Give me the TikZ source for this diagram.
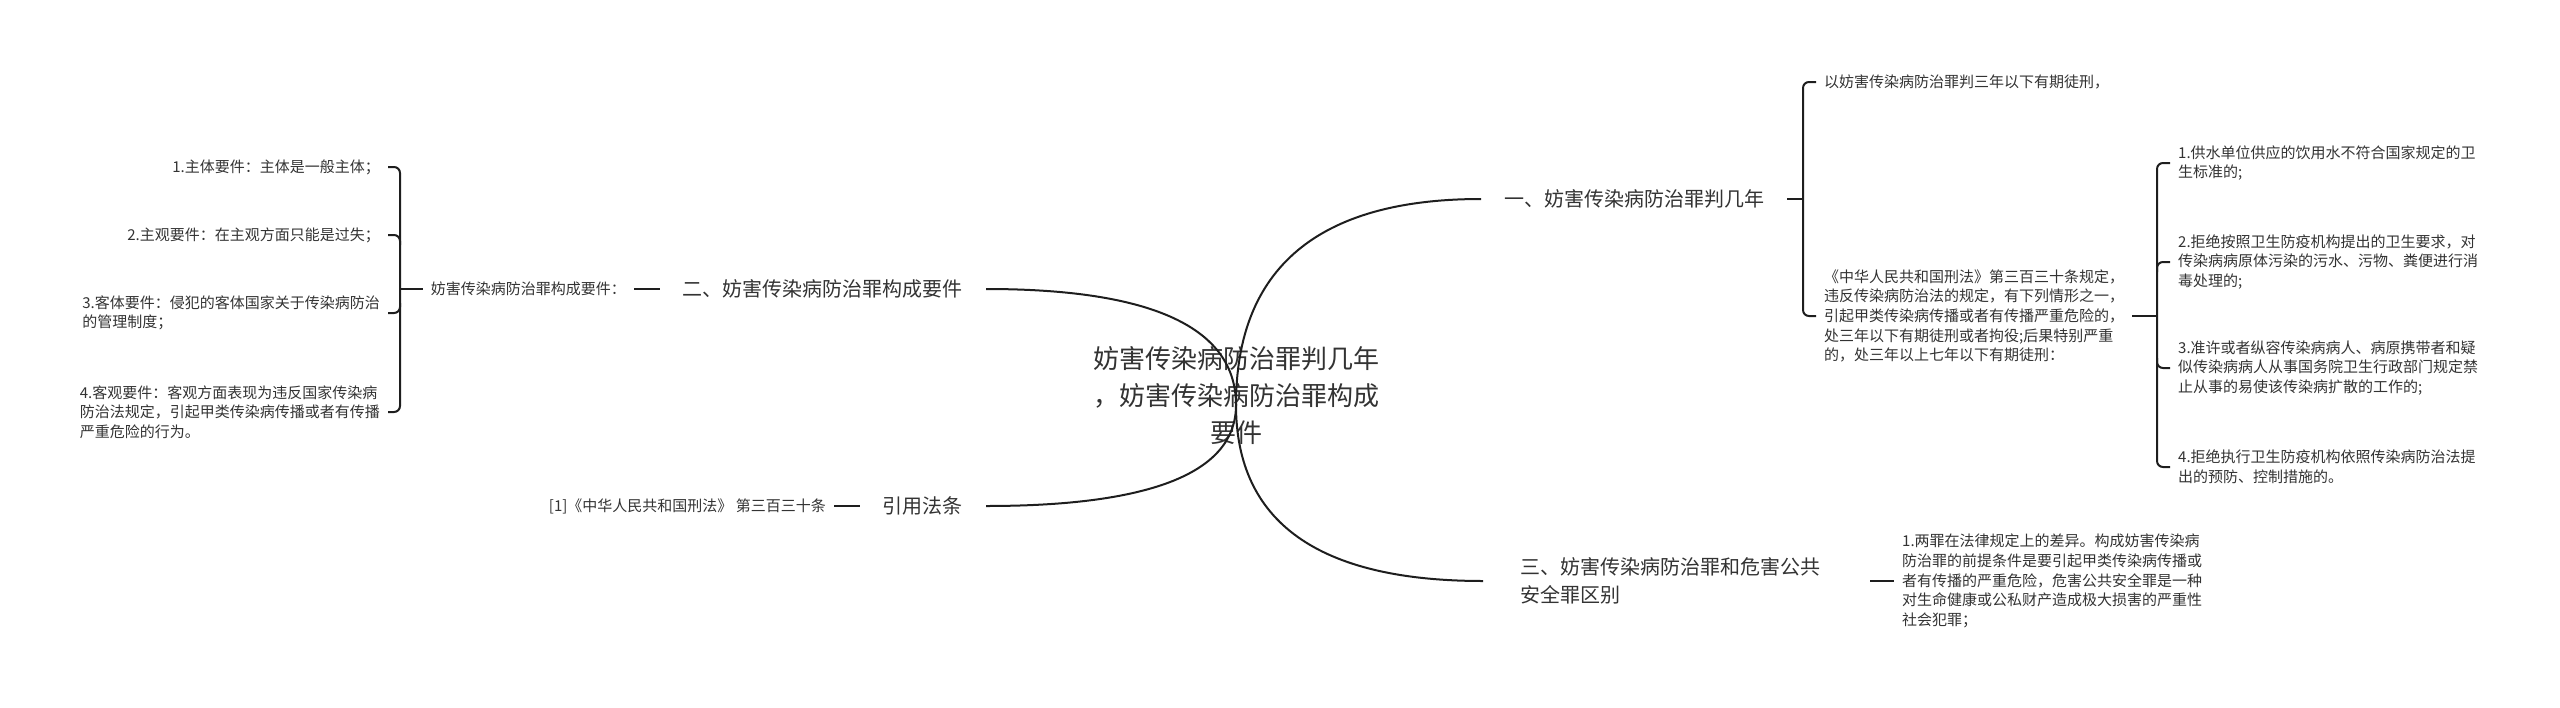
\documentclass[tikz,border=0pt]{standalone}
\usepackage{fontspec}
\setmainfont{Noto Sans CJK SC}
\definecolor{inkgray}{HTML}{333333}
\definecolor{linegray}{HTML}{1E1E1E}

\begin{document}
\begin{tikzpicture}[x=1pt,y=-1pt]
        \tikzstyle{topic} = [inner sep=0pt,align=center,text=inkgray,font=\fontsize{26}{37}\selectfont]
        \tikzstyle{branch} = [inner xsep=23pt,inner ysep=0pt,align=left,text=inkgray,font=\fontsize{20}{28}\selectfont]
        \tikzstyle{leaf} = [inner xsep=8pt,inner ysep=0pt,align=left,text=inkgray,font=\fontsize{15}{19.6}\selectfont]
        \tikzstyle{link} = [draw=linegray,line width=2pt]
        \tikzstyle{brace} = [draw=linegray,line width=2pt,rounded corners=6pt]

        \useasboundingbox (0,0) rectangle (2560,707);


        \node[topic] (T) at (1236,396) {妨害传染病防治罪判几年\\，妨害传染病防治罪构成\\要件};
        \coordinate (O) at (1236,405);


        \node[branch,anchor=east] (B2) at (986,289) {二、妨害传染病防治罪构成要件};
        \node[branch,anchor=east] (Bc) at (986,506) {引用法条};
        \node[branch,anchor=west] (B1) at (1481,199) {一、妨害传染病防治罪判几年};
        \node[branch,anchor=west] (B3) at (1497,581) {三、妨害传染病防治罪和危害公共\\安全罪区别};


        \node[leaf,anchor=east] (L2a) at (634,289) {妨害传染病防治罪构成要件：};
        \node[leaf,anchor=east] (L21) at (388,167) {1.主体要件：主体是一般主体；};
        \node[leaf,anchor=east] (L22) at (388,235) {2.主观要件：在主观方面只能是过失；};
        \node[leaf,anchor=east] (L23) at (388,313) {3.客体要件：侵犯的客体国家关于传染病防治\\的管理制度；};
        \node[leaf,anchor=east] (L24) at (388,412) {4.客观要件：客观方面表现为违反国家传染病\\防治法规定，引起甲类传染病传播或者有传播\\严重危险的行为。};

        \node[leaf,anchor=east] (Lc) at (834,506) {[1]《中华人民共和国刑法》 第三百三十条};


        \node[leaf,anchor=west] (R1a) at (1816,82) {以妨害传染病防治罪判三年以下有期徒刑，};
        \node[leaf,anchor=west] (R1b) at (1816,316) {《中华人民共和国刑法》第三百三十条规定，\\违反传染病防治法的规定，有下列情形之一，\\引起甲类传染病传播或者有传播严重危险的，\\处三年以下有期徒刑或者拘役;后果特别严重\\的，处三年以上七年以下有期徒刑：};
        \node[leaf,anchor=west] (C1) at (2170,163) {1.供水单位供应的饮用水不符合国家规定的卫\\生标准的;};
        \node[leaf,anchor=west] (C2) at (2170,262) {2.拒绝按照卫生防疫机构提出的卫生要求，对\\传染病病原体污染的污水、污物、粪便进行消\\毒处理的;};
        \node[leaf,anchor=west] (C3) at (2170,368) {3.准许或者纵容传染病病人、病原携带者和疑\\似传染病病人从事国务院卫生行政部门规定禁\\止从事的易使该传染病扩散的工作的;};
        \node[leaf,anchor=west] (C4) at (2170,467) {4.拒绝执行卫生防疫机构依照传染病防治法提\\出的预防、控制措施的。};

        \node[leaf,anchor=west] (L3) at (1894,581) {1.两罪在法律规定上的差异。构成妨害传染病\\防治罪的前提条件是要引起甲类传染病传播或\\者有传播的严重危险，危害公共安全罪是一种\\对生命健康或公私财产造成极大损害的严重性\\社会犯罪；};


        \draw[link] (O) .. controls +(0,-77) and +(167,0) .. (B2.east);
        \draw[link] (O) .. controls +(0,67) and +(167,0) .. (Bc.east);
        \draw[link] (O) .. controls +(0,-137) and +(-163,0) .. (B1.west);
        \draw[link] (O) .. controls +(0,117) and +(-165,0) .. ([xshift=-14pt]B3.west);


        \draw[link] (L2a.east) -- (B2.west);
        \draw[link] (Lc.east) -- (Bc.west);
        \draw[link] ([xshift=27pt]B3.east) -- (L3.west);


        \coordinate (s2) at (400,289);
        \draw[link] (L2a.west) -- (s2);
        \draw[brace] (L21.east) -| (s2) |- (L24.east);
        \draw[brace] (L22.east) -| ++(12,10);
        \draw[brace] (L23.east) -| ++(12,-10);


        \coordinate (s1) at (1803,199);
        \draw[link] (B1.east) -- (s1);
        \draw[brace] (R1a.west) -| (s1) |- (R1b.west);


        \coordinate (sb) at (2157,316);
        \draw[link] (R1b.east) -- (sb);
        \draw[brace] (C1.west) -| (sb) |- (C4.west);
        \draw[brace] (C2.west) -| ++(-13,10);
        \draw[brace] (C3.west) -| ++(-13,-10);


\end{tikzpicture}
\end{document}
